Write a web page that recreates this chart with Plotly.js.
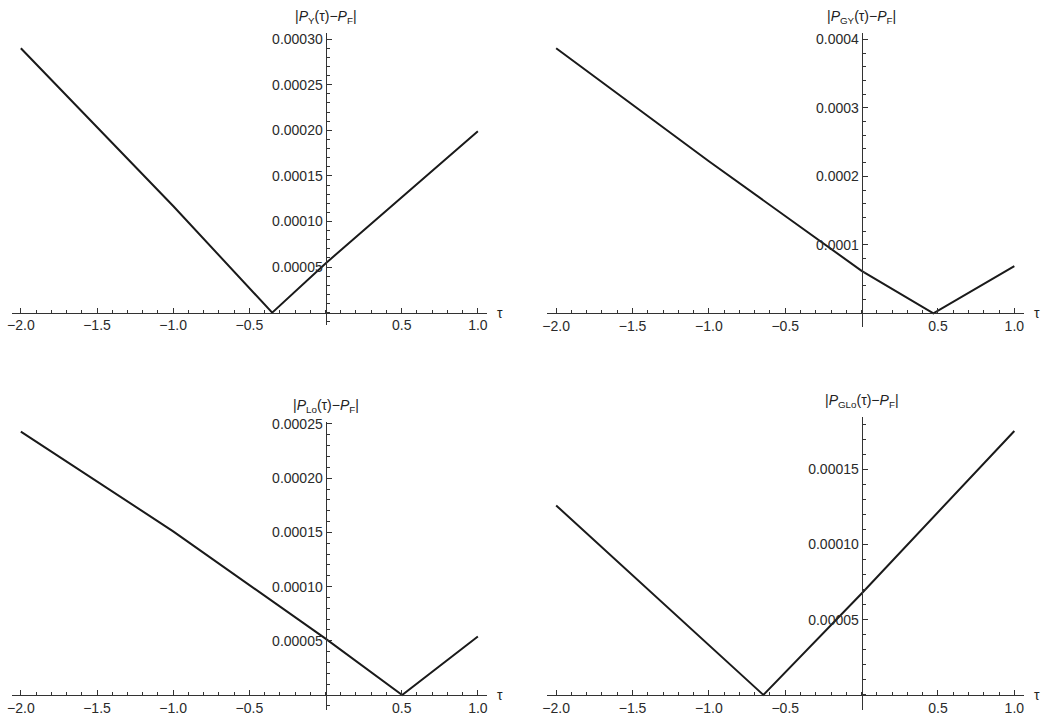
<!DOCTYPE html>
<html>
<head>
<meta charset="utf-8">
<script src="https://cdn.plot.ly/plotly-3.0.1.min.js"></script>
<style>html,body{margin:0;padding:0;background:#fff;}#chart{width:1050px;height:719px;}</style>
</head>
<body>
<div id="chart"></div>
<script>
// ---- data ----
const tauY   = [-2.0, -1.0, -0.35, 0.0, 1.0];
const pY     = [0.00029, 0.000117, 0.0, 0.000054, 0.000199];

const tauGY  = [-2.0, -1.0, 0.0, 0.47, 1.0];
const pGY    = [0.000387, 0.000222, 0.000062, 0.0, 0.000069];

const tauLo  = [-2.0, -1.0, 0.0, 0.503, 1.0];
const pLo    = [0.000243, 0.000151, 0.000052, 0.0, 0.000054];

const tauGLo = [-2.0, -0.643, 0.0, 1.0];
const pGLo   = [0.000126, 0.0, 0.0000675, 0.0001755];

const xTickVals = [-2.0, -1.5, -1.0, -0.5, 0.5, 1.0];
const xTickText = ['\u22122.0', '\u22121.5', '\u22121.0', '\u22120.5', '0.5', '1.0'];

const yTickValsY   = [0.00005, 0.00010, 0.00015, 0.00020, 0.00025, 0.00030];
const yTickTextY   = ['0.00005', '0.00010', '0.00015', '0.00020', '0.00025', '0.00030'];
const yTickValsGY  = [0.0001, 0.0002, 0.0003, 0.0004];
const yTickTextGY  = ['0.0001', '0.0002', '0.0003', '0.0004'];
const yTickValsLo  = [0.00005, 0.00010, 0.00015, 0.00020, 0.00025];
const yTickTextLo  = ['0.00005', '0.00010', '0.00015', '0.00020', '0.00025'];
const yTickValsGLo = [0.00005, 0.00010, 0.00015];
const yTickTextGLo = ['0.00005', '0.00010', '0.00015'];

const titles = [
  '|<i>P</i><sub>Y</sub>(τ)\u2212<i>P</i><sub>F</sub>|',
  '|<i>P</i><sub>GY</sub>(τ)\u2212<i>P</i><sub>F</sub>|',
  '|<i>P</i><sub>Lo</sub>(τ)\u2212<i>P</i><sub>F</sub>|',
  '|<i>P</i><sub>GLo</sub>(τ)\u2212<i>P</i><sub>F</sub>|'
];

// ---- layout of the four panels ----
const W = 1050, H = 719;
const xRange = [-2.06, 1.06];
const panels = [
  {tau: tauY,   p: pY,   xd: [11.7, 487],   yd: [33, 325],    yr: [-0.0000135, 0.0003067], tv: yTickValsY,   tt: yTickTextY,   minor: 0.00001},
  {tau: tauGY,  p: pGY,  xd: [547, 1023.5], yd: [33.3, 327],  yr: [-0.0000200, 0.0004088], tv: yTickValsGY,  tt: yTickTextGY,  minor: 0.00002},
  {tau: tauLo,  p: pLo,  xd: [11.7, 487],   yd: [421.7, 710], yr: [-0.0000138, 0.0002521], tv: yTickValsLo,  tt: yTickTextLo,  minor: 0.00001},
  {tau: tauGLo, p: pGLo, xd: [547, 1023.5], yd: [416.7, 710], yr: [-0.0000100, 0.000185],  tv: yTickValsGLo, tt: yTickTextGLo, minor: 0.00001}
];

const axisColor = '#333';
const tickFont = {family: 'Liberation Sans, Arial, sans-serif', size: 14, color: '#2a2a2a'};

const data = [];
const layout = {
  width: W, height: H,
  margin: {l: 0, r: 0, t: 0, b: 0},
  paper_bgcolor: '#fff', plot_bgcolor: 'rgba(0,0,0,0)',
  showlegend: false,
  annotations: []
};

panels.forEach((pn, i) => {
  const n = i === 0 ? '' : String(i + 1);
  const xDom = [pn.xd[0] / W, pn.xd[1] / W];
  const yDom = [1 - pn.yd[1] / H, 1 - pn.yd[0] / H];
  const xPos = yDom[0] + (0 - pn.yr[0]) / (pn.yr[1] - pn.yr[0]) * (yDom[1] - yDom[0]);
  const yPos = xDom[0] + (0 - xRange[0]) / (xRange[1] - xRange[0]) * (xDom[1] - xDom[0]);

  data.push({
    type: 'scatter', mode: 'lines',
    x: pn.tau, y: pn.p,
    xaxis: 'x' + n, yaxis: 'y' + n,
    line: {color: '#1a1a1a', width: 2},
    hoverinfo: 'skip'
  });

  layout['xaxis' + n] = {
    domain: xDom, range: xRange, anchor: 'free', position: xPos,
    showline: true, linecolor: axisColor, linewidth: 1,
    showgrid: false, zeroline: false,
    tickmode: 'array', tickvals: xTickVals, ticktext: xTickText,
    ticks: 'inside', ticklen: 5, tickwidth: 1, tickcolor: axisColor,
    minor: {tickmode: 'linear', tick0: 0, dtick: 0.1, ticks: 'inside', ticklen: 3, tickwidth: 1, tickcolor: axisColor, showgrid: false},
    tickfont: tickFont, fixedrange: true
  };
  layout['yaxis' + n] = {
    domain: yDom, range: pn.yr, anchor: 'free', position: yPos,
    showline: true, linecolor: axisColor, linewidth: 1,
    showgrid: false, zeroline: false,
    tickmode: 'array', tickvals: pn.tv, ticktext: pn.tt,
    ticks: 'inside', ticklen: 5, tickwidth: 1, tickcolor: axisColor,
    minor: {tickmode: 'linear', tick0: 0, dtick: pn.minor, ticks: 'inside', ticklen: 3, tickwidth: 1, tickcolor: axisColor, showgrid: false},
    tickfont: tickFont, fixedrange: true
  };

  layout.annotations.push({
    text: titles[i], xref: 'x' + n, x: 0, yref: 'paper', y: yDom[1],
    xanchor: 'center', yanchor: 'bottom', yshift: 5, showarrow: false,
    font: {family: 'Liberation Sans, Arial, sans-serif', size: 14, color: '#222'}
  });
  layout.annotations.push({
    text: 'τ', xref: 'paper', x: xDom[1], yref: 'y' + n, y: 0,
    xanchor: 'left', yanchor: 'middle', xshift: 8, showarrow: false,
    font: {family: 'Liberation Sans, Arial, sans-serif', size: 14, color: '#222'}
  });
});

Plotly.newPlot('chart', data, layout, {displayModeBar: false, staticPlot: true});
</script>
</body>
</html>
